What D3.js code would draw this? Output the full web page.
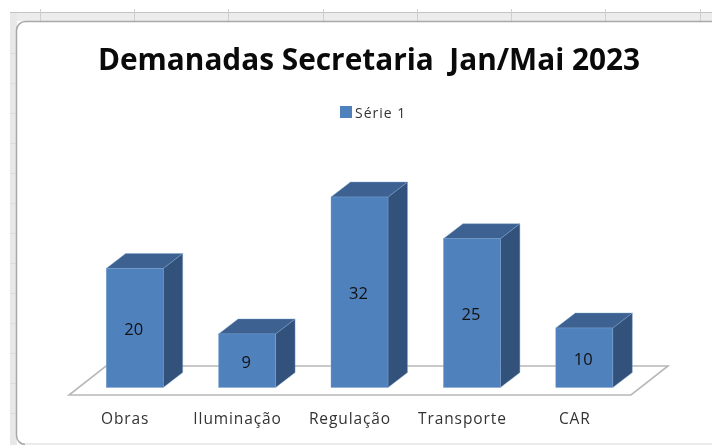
<!DOCTYPE html>
<html><head><meta charset="utf-8">
<script src="https://cdn.jsdelivr.net/npm/d3@7/dist/d3.min.js"></script>
<style>html,body{margin:0;padding:0;background:#fff}svg{display:block;filter:blur(0.35px)}</style>
</head><body><svg id="c" width="712" height="445"></svg>
<script>
const categories = ["Obras","Iluminação","Regulação","Transporte","CAR"];
const seriesValues = [20,9,32,25,10];
const seriesName = "Série 1";
const chartTitle = "Demanadas Secretaria  Jan/Mai 2023";
const rulerTicksX = [40,134,228,323,417,511,605,700];
const rulerTicksY = [53,83,113,143,173,203,233,263,293,323,353,383,413];

const svg = d3.select("#c");
const W = 712, H = 445;
const FRONT="#4f81bd", SIDE="#32527c", TOP="#3d6291", EDGE="#7fa3cf";
const depthX = 19.5, depthY = 15;
const floorL = 69, floorR = 631, base = 387.5, floorFront = 395, floorBack = 366;

const x = d3.scaleBand().domain(categories).range([floorL,floorR]).paddingInner(0.493).paddingOuter(0.2465);
const y = d3.scaleLinear().domain([0,32]).range([base,197]);

// ruler chrome
svg.append("rect").attr("x",10).attr("y",13).attr("width",W-10).attr("height",8).attr("fill","#ececec");
svg.append("line").attr("x1",10).attr("x2",W).attr("y1",12.5).attr("y2",12.5).attr("stroke","#c4c4c4");
svg.append("rect").attr("x",10).attr("y",13).attr("width",7).attr("height",H-13).attr("fill","#e8e8e8");
svg.selectAll(".rx").data(rulerTicksX).join("line").attr("x1",d=>d+.5).attr("x2",d=>d+.5).attr("y1",9).attr("y2",21).attr("stroke","#cfcfcf");
svg.selectAll(".ry").data(rulerTicksY).join("line").attr("x1",10).attr("x2",17).attr("y1",d=>d+.5).attr("y2",d=>d+.5).attr("stroke","#dcdcdc");
// chart area
svg.append("rect").attr("x",16.5).attr("y",21.5).attr("width",W+20).attr("height",423).attr("rx",9).attr("fill","#fff").attr("stroke","#a8a8a8").attr("stroke-width",1.5);
svg.append("line").attr("x1",25).attr("x2",W).attr("y1",444.5).attr("y2",444.5).attr("stroke","#ececec").attr("stroke-width",1.5);

// title
svg.append("text").attr("x",369).attr("y",70).attr("text-anchor","middle")
  .style("white-space","pre").attr("font-family","'Open Sans',sans-serif").attr("font-weight",700).attr("font-size",29.8).attr("fill","#0a0a0a").text(chartTitle);

// legend
svg.append("rect").attr("x",340).attr("y",106).attr("width",12).attr("height",12).attr("fill",FRONT);
svg.append("text").attr("x",355).attr("y",118).attr("font-family","'Open Sans',sans-serif").attr("font-size",14).attr("letter-spacing",1).attr("fill","#333").text(seriesName);

// floor
const floorPath = d3.line()([[floorL,floorFront],[floorR,floorFront],[floorR+37,floorBack],[floorL+37,floorBack]])+"Z";
svg.append("path").attr("d",floorPath).attr("fill","#fff").attr("stroke","#b8b8b8").attr("stroke-width",1.6);

// bars
const off = 9.5;
const g = svg.selectAll(".bar").data(categories.map((c,i)=>({c,v:seriesValues[i]}))).join("g");
const bw = x.bandwidth();
g.append("path").attr("fill",SIDE).attr("stroke",EDGE).attr("stroke-width",.4).attr("d",d=>{
  const r=x(d.c)+off+bw, t=y(d.v);
  return d3.line()([[r,base],[r,t],[r+depthX,t-depthY],[r+depthX,base-depthY]])+"Z";});
g.append("path").attr("fill",TOP).attr("stroke",EDGE).attr("stroke-width",.4).attr("d",d=>{
  const l=x(d.c)+off, t=y(d.v);
  return d3.line()([[l,t],[l+bw,t],[l+bw+depthX,t-depthY],[l+depthX,t-depthY]])+"Z";});
g.append("rect").attr("x",d=>x(d.c)+off).attr("y",d=>y(d.v)).attr("width",bw).attr("height",d=>base-y(d.v)).attr("fill",FRONT).attr("stroke",EDGE).attr("stroke-width",.4);
g.append("text").attr("x",d=>x(d.c)+off+bw/2-1).attr("y",d=>(y(d.v)+base)/2+6.9).attr("text-anchor","middle")
  .attr("font-family","'Open Sans',sans-serif").attr("font-size",16.5).attr("fill","#111").text(d=>d.v);

// axis labels
const axis = d3.axisBottom(x).tickSize(0).tickPadding(0);
const ax = svg.append("g").attr("transform","translate(0,412.5)").call(axis);
ax.select(".domain").remove();
ax.selectAll("text").attr("font-family","'Open Sans',sans-serif").attr("font-size",15.5).attr("letter-spacing",.9).attr("fill","#333").attr("dy",".72em");
</script></body></html>
